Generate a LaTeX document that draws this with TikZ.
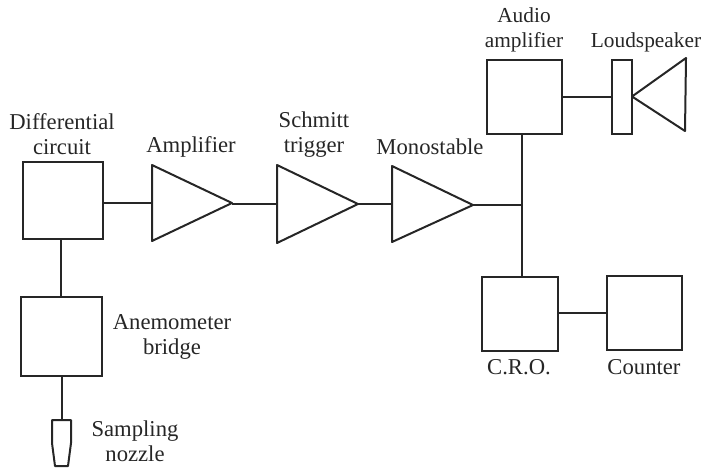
\documentclass[tikz,border=0pt]{standalone}
\usepackage{fontspec}
\setmainfont{Liberation Serif}
\tikzset{
  px/.style={x=0.75pt,y=-0.75pt},
  ln/.style={line width=1.5pt,black!85,line join=round},
  lbl/.style={font=\fontsize{17pt}{18.8pt}\selectfont,align=center,inner sep=0pt,text=black!85},
  lbls/.style={font=\fontsize{16pt}{18.8pt}\selectfont,align=center,inner sep=0pt,text=black!85},
}
\begin{document}
\begin{tikzpicture}[px]
\useasboundingbox (0,0) rectangle (709,469);
\newcommand{\bx}[5]{\node[draw,line width=1.5pt,black!85,inner sep=0pt,outer sep=0pt,minimum width=#4*0.75pt,minimum height=#5*0.75pt] (#1) at (#2,#3) {};}
\bx{diff}{62.5}{200.5}{80}{77}
\bx{anem}{61}{336.5}{81}{79}
\bx{audio}{524.5}{96.5}{75}{74}
\bx{cro}{520}{314}{76}{74}
\bx{counter}{644.5}{313}{75}{74}
\bx{ls}{622}{96.5}{20}{74}
\coordinate (a1) at (152,165);\coordinate (a2) at (152,241);\coordinate (a3) at (232,203);
\draw[ln] (a1)--(a2)--(a3)--cycle;
\coordinate (s1) at (277,165);\coordinate (s2) at (277,243);\coordinate (s3) at (358,204);
\draw[ln] (s1)--(s2)--(s3)--cycle;
\coordinate (m1) at (392,166);\coordinate (m2) at (392,242);\coordinate (m3) at (473,205);
\draw[ln] (m1)--(m2)--(m3)--cycle;
\coordinate (sp1) at (686,58);\coordinate (sp2) at (685,131);\coordinate (sp3) at (632,96.5);
\draw[ln] (sp1)--(sp2)--(sp3)--cycle;
\coordinate (j) at (522,205);
\draw[ln] (diff.east |- a3)--(a1 |- a3);
\draw[ln] (a3 |- s3)--(s1 |- s3);
\draw[ln] (s3)--(m1 |- s3);
\draw[ln] (m3)--(j);
\draw[ln] (audio.south -| j)--(cro.north -| j);
\draw[ln] (audio.east)--(ls.west);
\draw[ln] (cro.east |- counter.west)--(counter.west);
\draw[ln] (diff.south -| anem.north)--(anem.north);
\coordinate (nt) at (61.5,420);
\draw[ln] (nt |- anem.south)--(nt);
\draw[ln] (52,420)--(71,420)--(71,443)--(68,466)--(55,466)--(52,443)--cycle;
\node[lbl] (t1) at (62,134.5) {Differential\\circuit};
\node[lbl] (t2) at (191,147) {Amplifier};
\node[lbl] (t3) at (314,134.5) {Schmitt\\trigger};
\node[lbl] (t4) at (430,147) {Monostable};
\node[lbls] (t5) at (524,30) {Audio\\amplifier};
\node[lbls] (t6) at (646,42) {Loudspeaker};
\node[lbl] (t7) at (172,337) {Anemometer\\bridge};
\node[lbl] (t8) at (135,441) {Sampling\\nozzle};
\node[lbl] (t9) at (519,367) {C.R.O.};
\node[lbl] (t10) at (644,367) {Counter};
\end{tikzpicture}
\end{document}
